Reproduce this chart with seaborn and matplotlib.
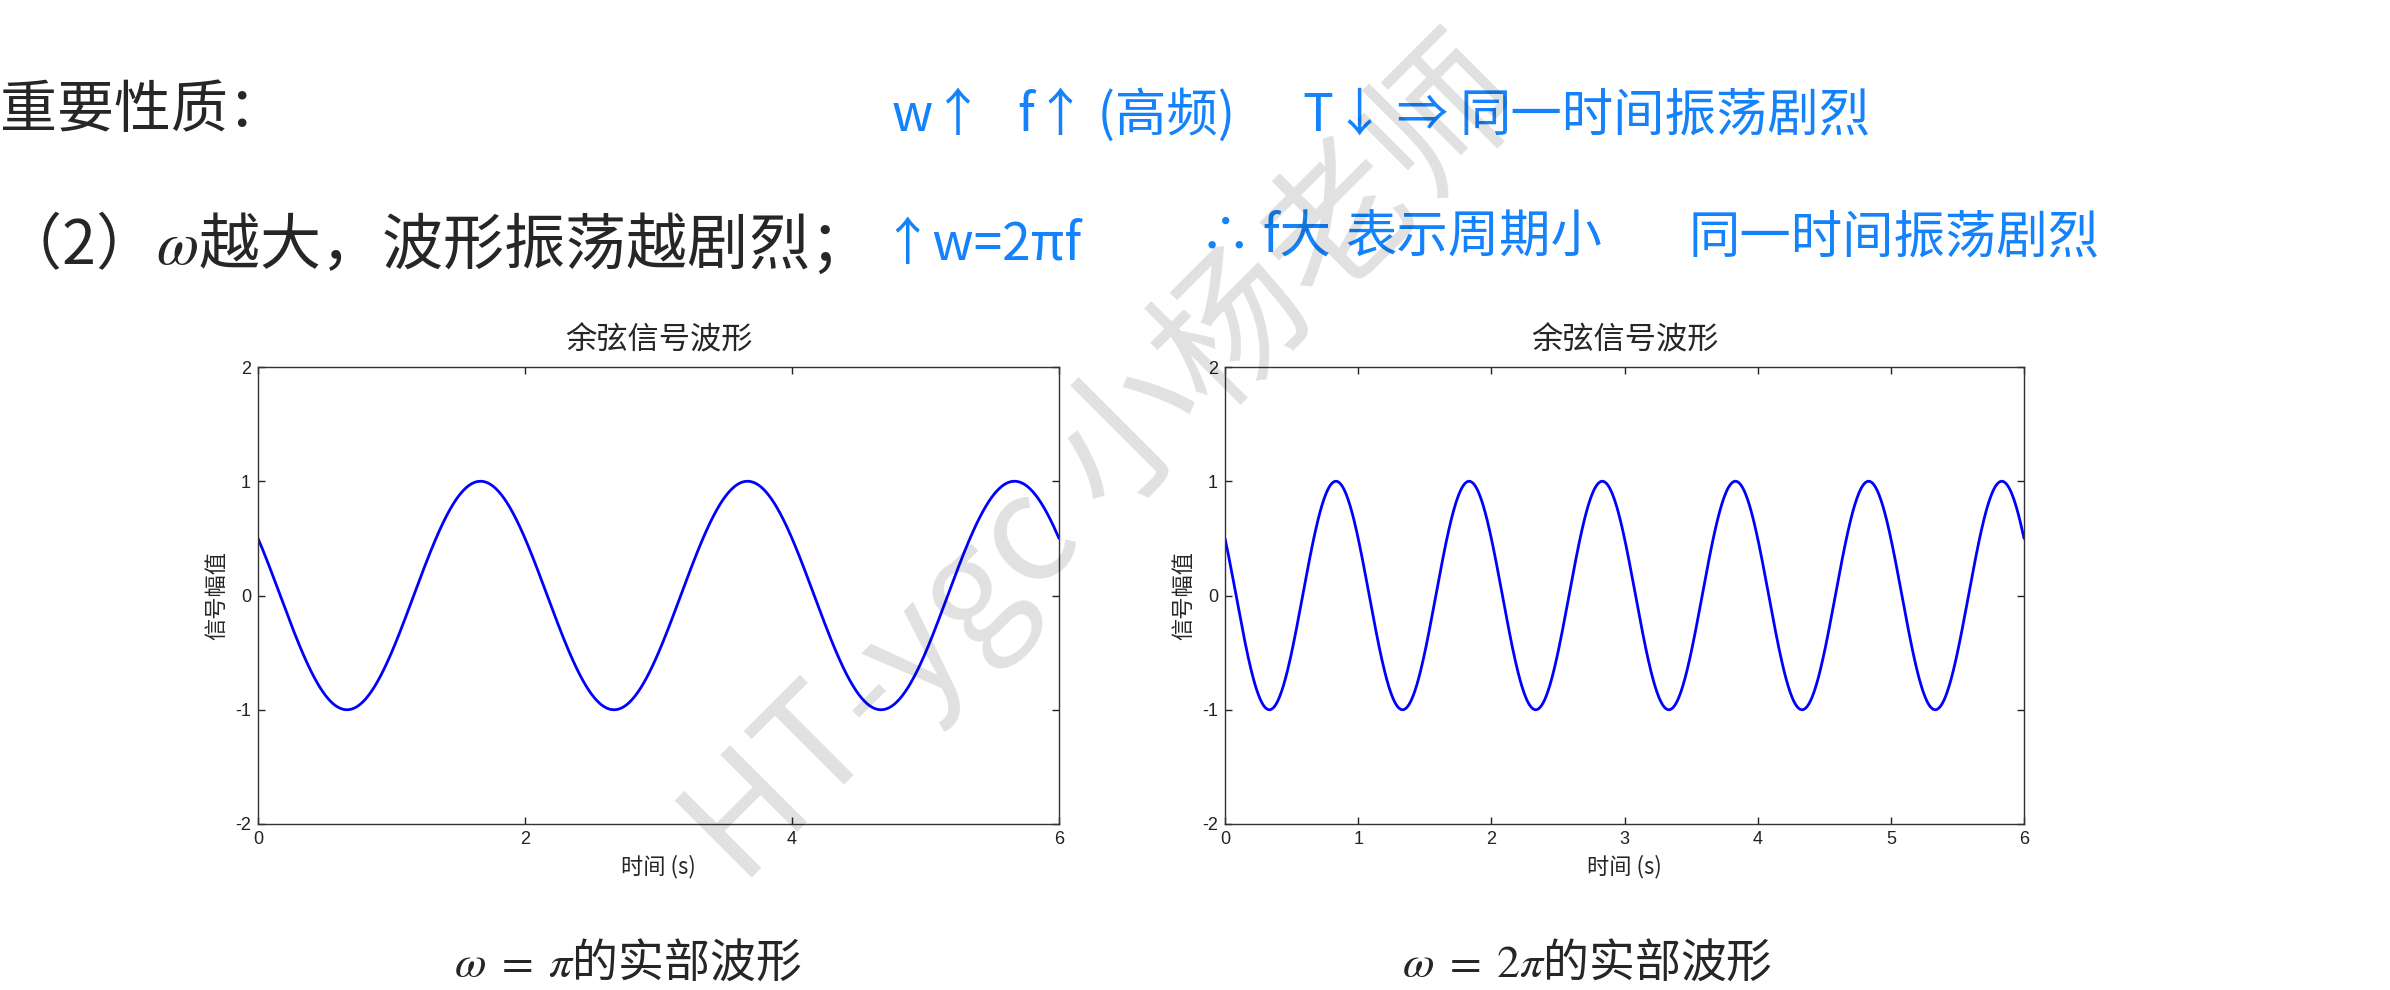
"""Slide: cosine waveforms for omega = pi and omega = 2*pi."""

import matplotlib

matplotlib.use("Agg")
import matplotlib.pyplot as plt
import numpy as np
import seaborn as sns

# signal parameters: x(t) = Re{exp(j(w t + phi))}
OMEGAS = [np.pi, 2 * np.pi]
PHASE = np.pi / 3
T_START, T_END = 0.0, 6.0
N_SAMPLES = 1201

PLOT_TITLE = "余弦信号波形"
X_LABEL = "时间 (s)"
Y_LABEL = "信号幅值"
X_TICKS = [[0, 2, 4, 6], [0, 1, 2, 3, 4, 5, 6]]
Y_TICKS = [-2, -1, 0, 1, 2]
CAPTIONS = [r"$\omega\;=\;\pi$的实部波形", r"$\omega\;=\;2\pi$的实部波形"]

HEADING = "重要性质："
POINT = "（2）$\\omega$越大，波形振荡越剧烈；"
# handwritten notes: (text, left px, centre px)
NOTES = [
    ("w↑", 892, 116),
    ("f↑ (高频)", 1018, 116),
    ("T↓ ⇒", 1303, 116),
    ("同一时间振荡剧烈", 1459, 116),
    ("↑w=2πf", 881, 245),
    ("∴ f大", 1200, 238),
    ("表示周期小", 1345, 238),
    ("同一时间振荡剧烈", 1689, 238),
]
WATERMARK = "HT-ygc 小杨老师"

W, H = 2390, 990
INK = "#1482FA"


def fx(px):
    return px / W


def fy(py):
    return 1 - py / H


def draw_wave(ax, omega, xticks):
    t = np.linspace(T_START, T_END, N_SAMPLES)
    x = np.real(np.exp(1j * (omega * t + PHASE)))
    sns.lineplot(x=t, y=x, ax=ax, color="#0000FF", linewidth=2.0, sort=False)
    ax.set_xlim(T_START, T_END)
    ax.set_ylim(-2, 2)
    ax.set_xticks(xticks)
    ax.set_yticks(Y_TICKS)
    ax.set_title(PLOT_TITLE, fontsize=22.5, pad=13)
    ax.set_xlabel(X_LABEL, fontsize=16, labelpad=5)
    ax.set_ylabel(Y_LABEL, fontsize=16, labelpad=5)
    ax.tick_params(direction="in", length=5, width=1, top=True, right=True,
                   bottom=True, left=True, labelsize=13, pad=5, colors="#222222")
    for lab in ax.get_xticklabels() + ax.get_yticklabels():
        lab.set_family(["Liberation Sans", "DejaVu Sans"])
    for spine in ax.spines.values():
        spine.set_visible(True)
        spine.set_color("#333333")
        spine.set_linewidth(1.0)
    ax.grid(False)


def main():
    sns.set_style("white")
    plt.rcParams["font.family"] = ["Noto Sans CJK SC", "DejaVu Sans"]
    plt.rcParams["mathtext.fontset"] = "stix"
    plt.rcParams["axes.unicode_minus"] = False

    fig = plt.figure(figsize=(W / 100, H / 100), dpi=100)
    fig.patch.set_facecolor("white")
    axes = [
        fig.add_axes([fx(258), fy(824), fx(1059 - 258), (824 - 367) / H]),
        fig.add_axes([fx(1225), fy(824), fx(2024 - 1225), (824 - 367) / H]),
    ]
    for ax, omega, xt in zip(axes, OMEGAS, X_TICKS):
        draw_wave(ax, omega, xt)

    fig.text(fx(0), fy(111), HEADING, fontsize=41, va="center", ha="left")
    fig.text(fx(0), fy(245), POINT, fontsize=44, va="center", ha="left")
    for text, px, py in NOTES:
        fig.text(fx(px), fy(py), text, fontsize=37, color=INK, va="center", ha="left")

    fig.text(fx(454), fy(963), CAPTIONS[0], fontsize=33, va="center", ha="left")
    fig.text(fx(1402), fy(963), CAPTIONS[1], fontsize=33, va="center", ha="left")

    fig.text(fx(742), fy(888), WATERMARK, fontsize=107, rotation=45,
             rotation_mode="anchor", ha="left", va="baseline", fontweight="light",
             color="black", alpha=0.12, zorder=100)

    fig.savefig("out.png", dpi=100)


if __name__ == "__main__":
    main()
